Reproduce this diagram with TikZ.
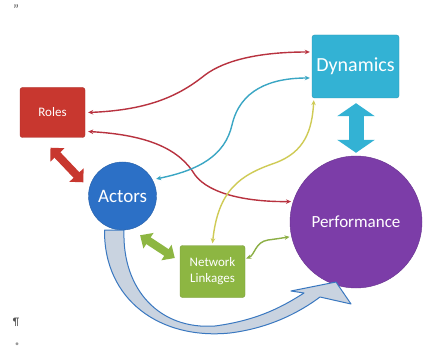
\documentclass[tikz,border=0pt]{standalone}
\usepackage{fontspec}
\setmainfont{Carlito}
\usetikzlibrary{arrows.meta}
\definecolor{rolesred}{HTML}{C8372F}
\definecolor{dyncyan}{HTML}{33B2D4}
\definecolor{actblue}{HTML}{2C70C6}
\definecolor{perfpurple}{HTML}{7C3DA8}
\definecolor{netgreen}{HTML}{8DB642}
\definecolor{curvered}{HTML}{B8323F}
\definecolor{curvecyan}{HTML}{3AA6C4}
\definecolor{curveyellow}{HTML}{CFCB55}
\definecolor{curvegreen}{HTML}{8CAF45}
\definecolor{bigfill}{HTML}{C9D3E0}
\definecolor{bigline}{HTML}{3A78C0}
\definecolor{markgray}{HTML}{555555}
\begin{document}
\begin{tikzpicture}[x=1pt,y=-1pt,
  boxnode/.style={rectangle,rounded corners=2.5pt,inner sep=0pt,text=white,align=center},
  circnode/.style={circle,inner sep=0pt,text=white},
  thincurve/.style={line width=1.4pt,{Stealth[length=5pt,width=4.5pt]}-{Stealth[length=5pt,width=4.5pt]}}
]
\useasboundingbox (0,0) rectangle (430,355);
\fill[white] (0,0) rectangle (430,355);

% nodes
\node[boxnode,fill=rolesred,draw=rolesred!85!black,minimum width=65pt,minimum height=50pt,font=\fontsize{13}{15}\selectfont] (roles) at (52.5,112.5) {Roles};
\node[boxnode,fill=dyncyan,draw=dyncyan!85!black,minimum width=87pt,minimum height=63pt,font=\fontsize{20}{22}\selectfont] (dyn) at (355.5,66.5) {Dynamics};
\node[circnode,fill=actblue,draw=actblue!85!black,minimum size=68pt,font=\fontsize{19}{21}\selectfont] (actors) at (122.5,196) {Actors};
\node[circnode,fill=perfpurple,draw=perfpurple!85!black,minimum size=132pt,font=\fontsize{17}{19}\selectfont] (perf) at (356,222) {Performance};
\node[boxnode,fill=netgreen,draw=netgreen!85!black,minimum width=65pt,minimum height=52pt,font=\fontsize{13}{16}\selectfont] (net) at (212.5,271.5) {Network\\Linkages};

% block double arrows
\draw[rolesred,line width=8pt,{Triangle[width=19pt,length=10pt]}-{Triangle[width=19pt,length=10pt]}]
  ([shift={(-2,10)}]roles.south) -- ([shift={(-7,-2)}]actors.160);
\draw[dyncyan,line width=15pt,{Triangle[width=37pt,length=13pt]}-{Triangle[width=37pt,length=13pt]}]
  ([shift={(0.5,5)}]dyn.south) -- ([shift={(0,-3)}]perf.north);
\draw[netgreen,line width=8pt,{Triangle[width=18pt,length=10pt]}-{Triangle[width=18pt,length=10pt]}]
  ([shift={(3.7,8)}]actors.-66) -- ([shift={(-5,-13.5)}]net.west);

% thin curved connectors
\draw[thincurve,curvered] ([xshift=3pt]roles.east)
  .. controls (150,110) and (180,95) .. (205,75)
  .. controls (225,60) and (260,52) .. ([shift={(-2,-14.5)}]dyn.west);
\draw[thincurve,curvered] ([shift={(3,19)}]roles.east)
  .. controls (150,135) and (180,150) .. (195,175)
  .. controls (210,195) and (250,202) .. ([xshift=-2pt]perf.162);
\draw[thincurve,curvecyan] ([xshift=4pt]actors.30)
  .. controls (200,170) and (225,155) .. (232,125)
  .. controls (240,90) and (270,78) .. ([shift={(-2,11.5)}]dyn.west);
\draw[thincurve,curveyellow] ([yshift=2pt]net.north)
  .. controls (218,190) and (240,175) .. (275,163)
  .. controls (305,152) and (312,130) .. ([shift={(2,2)}]dyn.south west);
\draw[thincurve,curvegreen] ([shift={(1,-13)}]net.east)
  .. controls (255,255) and (255,242) .. (268,240)
  .. controls (276,239) and (282,238) .. ([xshift=-2pt]perf.193);

% big curved block arrow from Actors to Performance
\coordinate (bigA) at ([shift={(-18,0)}]actors.south);
\coordinate (bigD) at ([shift={(1.5,0)}]actors.south);
\filldraw[fill=bigfill,draw=bigline,line width=1pt,line join=round]
  (bigA) .. controls (104,300) and (160,340) .. (230,333)
  .. controls (270,328) and (300,312) .. (320,297)
  -- (351,304) -- (336,282) -- (291,291) -- (304,293)
  .. controls (285,305) and (260,320) .. (215,326)
  .. controls (160,330) and (122,290) .. (bigD) -- cycle;

% stray formatting marks
\node[text=markgray,font=\fontsize{14}{14}\selectfont,inner sep=0pt] (mtop) at (16,10) {''};
\node[text=markgray,font=\fontsize{11}{12}\selectfont,inner sep=0pt] (mpil) at (16,322) {¶};
\node[text=markgray!60,font=\fontsize{8}{9}\selectfont,inner sep=0pt] (mdot) at (17,345) {•};
\end{tikzpicture}
\end{document}
